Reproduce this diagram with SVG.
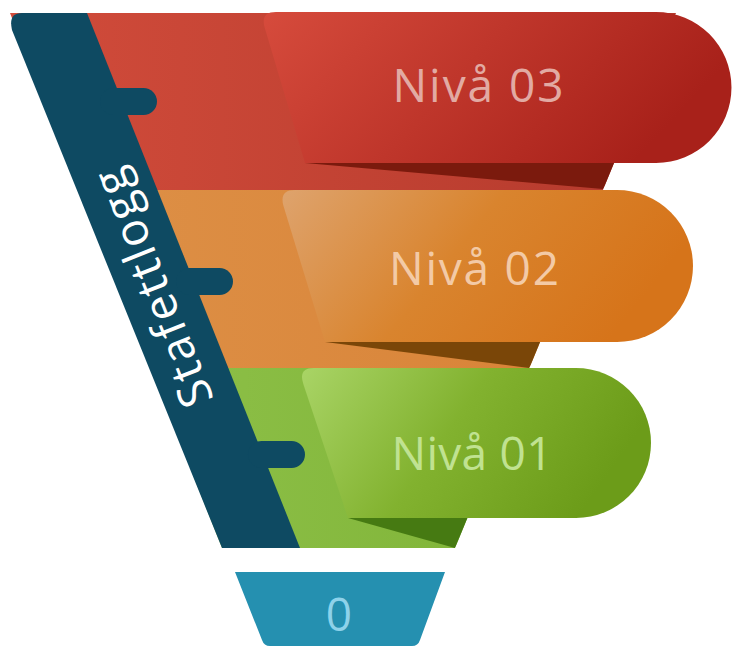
<svg xmlns="http://www.w3.org/2000/svg" width="732" height="647" viewBox="0 0 732 647">
  <defs>
    <clipPath id="funnel"><polygon points="10,13 676,13 455,548 222,548"/></clipPath>
    <linearGradient id="gRedBand" x1="0" y1="0" x2="1" y2="0"><stop offset="0" stop-color="#d24c3b"/><stop offset="1" stop-color="#b1382b"/></linearGradient>
    <linearGradient id="gOrgBand" x1="0" y1="0" x2="1" y2="0"><stop offset="0" stop-color="#de9249"/><stop offset="1" stop-color="#d77f32"/></linearGradient>
    <linearGradient id="gGrnBand" x1="0" y1="0" x2="1" y2="0"><stop offset="0" stop-color="#93c54f"/><stop offset="1" stop-color="#78ad2e"/></linearGradient>
    <linearGradient id="gRedPill" x1="0" y1="0" x2="1" y2="0.3"><stop offset="0" stop-color="#d64b3c"/><stop offset="1" stop-color="#a8211a"/></linearGradient>
    <linearGradient id="gOrgPill" x1="0" y1="0" x2="1" y2="0.3"><stop offset="0" stop-color="#dea36d"/><stop offset="0.5" stop-color="#d9842e"/><stop offset="1" stop-color="#d6741a"/></linearGradient>
    <linearGradient id="gGrnPill" x1="0" y1="0" x2="1" y2="0.3"><stop offset="0" stop-color="#a9d466"/><stop offset="0.5" stop-color="#82b22f"/><stop offset="1" stop-color="#6c9c19"/></linearGradient>
    <style>
      .strip{fill:#0e4a62}
      .lbl{font-family:"Open Sans","Noto Sans","Liberation Sans",sans-serif;font-size:46px;text-anchor:middle}
    </style>
  </defs>

  <g id="funnel-bands" clip-path="url(#funnel)">
    <rect x="0" y="13" width="732" height="178" fill="url(#gRedBand)"/>
    <rect x="0" y="190" width="732" height="179" fill="url(#gOrgBand)"/>
    <rect x="0" y="368" width="732" height="181" fill="url(#gGrnBand)"/>
    <polygon points="305,163 620,163 603,189" fill="#7b1a0d"/>
    <polygon points="325,342 545,342 529,368" fill="#7a4608"/>
    <polygon points="348,518 472,518 455,548" fill="#467a12"/>
  </g>

  <g id="strip">
    <path class="strip" d="M22,13 L87,13 L300,548 L222,548 L12,30 Q8,13 22,13 Z"/>
    <rect class="strip" x="100" y="88" width="57" height="27" rx="13.5"/>
    <rect class="strip" x="176" y="268" width="57" height="27" rx="13.5"/>
    <rect class="strip" x="248" y="441" width="57" height="27" rx="13.5"/>
    <text x="153" y="288" transform="rotate(-111.6 153 288)" dy="16" font-family="'Open Sans','Noto Sans','Liberation Sans',sans-serif" font-size="46" fill="#ffffff" text-anchor="middle" textLength="252" lengthAdjust="spacing">Stafettlogg</text>
  </g>

  <g id="level3">
    <path d="M276,12 L656,12 A75.5,75.5 0 0 1 656,163 L305,163 L264.8,28 Q260,12 276,12 Z" fill="url(#gRedPill)"/>
    <text class="lbl" x="478" y="102" fill="#e2aaa3" textLength="171" lengthAdjust="spacing">Nivå 03</text>
  </g>

  <g id="level2">
    <path d="M295,190 L617,190 A76,76 0 0 1 617,342 L325,342 L283.5,206 Q279,190 295,190 Z" fill="url(#gOrgPill)"/>
    <text class="lbl" x="474" y="285" fill="#f3caa6" textLength="170" lengthAdjust="spacing">Nivå 02</text>
  </g>

  <g id="level1">
    <path d="M314,368 L576,368 A75,75 0 0 1 576,518 L348,518 L303.3,384 Q298,368 314,368 Z" fill="url(#gGrnPill)"/>
    <text class="lbl" x="472" y="470" fill="#c0e291" textLength="161" lengthAdjust="spacing">Nivå 01</text>
  </g>

  <g id="level0">
    <path d="M235,572 L445,572 L420,640 Q418,646 412,646 L270,646 Q264,646 262,640 Z" fill="#2590b0"/>
    <text x="339" y="631" font-family="'Open Sans','Noto Sans','Liberation Sans',sans-serif" font-size="46" fill="#8ed2ea" text-anchor="middle">0</text>
  </g>
</svg>
